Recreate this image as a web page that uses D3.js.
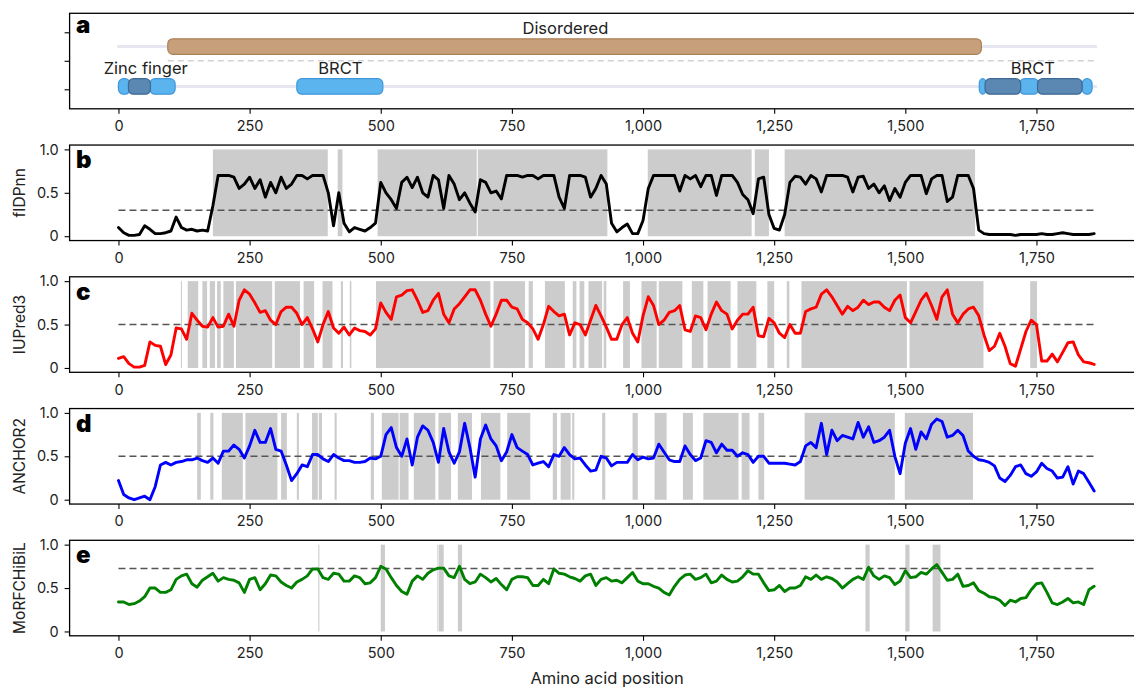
<!DOCTYPE html>
<html>
<head>
<meta charset="utf-8">
<script src="https://cdn.jsdelivr.net/npm/d3@7"></script>
<style>
  body { margin: 0; background: #fff; }
  text { font-family: Inter, 'Noto Sans', sans-serif; fill: #222; }
</style>
</head>
<body>
<script>
// Constants
var WIDTH = 1134;
var HEIGHT = 687;
var SEQ_LENGTH = 1863;
var STEP = 10; // one value read every 10 residues

// Scores, one every STEP residues (0, 10, ... 1860)
var fidpnn = [
  0.10, 0.04, 0.01, 0.01, 0.02, 0.12, 0.08, 0.03, 0.03, 0.04,
  0.06, 0.22, 0.10, 0.07, 0.08, 0.06, 0.07, 0.06, 0.35, 0.70,
  0.70, 0.70, 0.68, 0.55, 0.60, 0.68, 0.55, 0.65, 0.45, 0.62,
  0.50, 0.68, 0.55, 0.60, 0.70, 0.70, 0.66, 0.70, 0.70, 0.70,
  0.50, 0.12, 0.50, 0.15, 0.05, 0.10, 0.08, 0.06, 0.10, 0.15,
  0.62, 0.50, 0.42, 0.32, 0.62, 0.68, 0.56, 0.68, 0.50, 0.45,
  0.70, 0.65, 0.32, 0.70, 0.60, 0.42, 0.50, 0.38, 0.28, 0.65,
  0.62, 0.50, 0.52, 0.43, 0.70, 0.70, 0.70, 0.68, 0.70, 0.70,
  0.66, 0.70, 0.70, 0.70, 0.45, 0.32, 0.70, 0.70, 0.70, 0.68,
  0.45, 0.55, 0.70, 0.60, 0.15, 0.05, 0.10, 0.14, 0.03, 0.03,
  0.18, 0.55, 0.70, 0.70, 0.70, 0.70, 0.70, 0.52, 0.70, 0.66,
  0.70, 0.57, 0.70, 0.70, 0.47, 0.70, 0.70, 0.70, 0.62, 0.48,
  0.42, 0.26, 0.66, 0.68, 0.25, 0.09, 0.07, 0.25, 0.62, 0.69,
  0.68, 0.60, 0.70, 0.66, 0.51, 0.70, 0.70, 0.70, 0.70, 0.68,
  0.51, 0.68, 0.69, 0.55, 0.60, 0.50, 0.58, 0.41, 0.55, 0.45,
  0.62, 0.70, 0.70, 0.70, 0.49, 0.66, 0.70, 0.70, 0.40, 0.45,
  0.70, 0.70, 0.70, 0.55, 0.07, 0.03, 0.02, 0.02, 0.02, 0.02,
  0.02, 0.01, 0.02, 0.02, 0.02, 0.02, 0.03, 0.02, 0.02, 0.03,
  0.04, 0.03, 0.02, 0.02, 0.02, 0.02, 0.03
];

var iupred3 = [
  0.11, 0.13, 0.05, 0.01, 0.01, 0.03, 0.30, 0.26, 0.25, 0.04,
  0.15, 0.46, 0.45, 0.33, 0.63, 0.55, 0.48, 0.47, 0.58, 0.47,
  0.48, 0.62, 0.48, 0.78, 0.90, 0.85, 0.75, 0.64, 0.66, 0.55,
  0.50, 0.65, 0.70, 0.70, 0.63, 0.50, 0.58, 0.45, 0.30, 0.50,
  0.65, 0.46, 0.40, 0.47, 0.38, 0.46, 0.43, 0.42, 0.38, 0.45,
  0.75, 0.64, 0.56, 0.82, 0.84, 0.89, 0.90, 0.78, 0.64, 0.66,
  0.78, 0.86, 0.62, 0.52, 0.68, 0.74, 0.82, 0.90, 0.90, 0.78,
  0.62, 0.48, 0.62, 0.78, 0.78, 0.70, 0.68, 0.56, 0.52, 0.45,
  0.33, 0.50, 0.71, 0.65, 0.60, 0.62, 0.38, 0.52, 0.50, 0.38,
  0.55, 0.72, 0.60, 0.47, 0.33, 0.33, 0.50, 0.58, 0.40, 0.30,
  0.60, 0.82, 0.72, 0.50, 0.55, 0.64, 0.66, 0.72, 0.44, 0.42,
  0.60, 0.58, 0.44, 0.62, 0.76, 0.66, 0.62, 0.45, 0.55, 0.62,
  0.62, 0.70, 0.37, 0.36, 0.57, 0.52, 0.40, 0.35, 0.50, 0.40,
  0.40, 0.65, 0.68, 0.70, 0.85, 0.90, 0.82, 0.72, 0.62, 0.71,
  0.66, 0.70, 0.78, 0.73, 0.76, 0.76, 0.70, 0.66, 0.78, 0.84,
  0.58, 0.52, 0.65, 0.78, 0.86, 0.72, 0.56, 0.82, 0.90, 0.62,
  0.52, 0.62, 0.68, 0.70, 0.60, 0.38, 0.20, 0.25, 0.40, 0.25,
  0.05, 0.02, 0.22, 0.42, 0.55, 0.50, 0.08, 0.08, 0.16, 0.07,
  0.18, 0.29, 0.30, 0.15, 0.07, 0.06, 0.04
];

var anchor2 = [
  0.22, 0.06, 0.02, 0.00, 0.02, 0.04, 0.00, 0.15, 0.40, 0.43,
  0.40, 0.43, 0.44, 0.46, 0.46, 0.48, 0.45, 0.43, 0.48, 0.42,
  0.56, 0.56, 0.63, 0.58, 0.48, 0.62, 0.80, 0.66, 0.66, 0.82,
  0.58, 0.56, 0.40, 0.22, 0.30, 0.40, 0.38, 0.52, 0.52, 0.47,
  0.44, 0.52, 0.48, 0.45, 0.45, 0.43, 0.43, 0.44, 0.48, 0.47,
  0.50, 0.75, 0.83, 0.60, 0.50, 0.70, 0.40, 0.72, 0.85, 0.80,
  0.66, 0.43, 0.82, 0.55, 0.42, 0.55, 0.88, 0.60, 0.26, 0.70,
  0.86, 0.70, 0.62, 0.45, 0.55, 0.75, 0.60, 0.56, 0.52, 0.40,
  0.42, 0.44, 0.38, 0.52, 0.50, 0.60, 0.52, 0.47, 0.48, 0.40,
  0.33, 0.34, 0.50, 0.48, 0.39, 0.43, 0.43, 0.43, 0.52, 0.46,
  0.49, 0.47, 0.48, 0.64, 0.55, 0.46, 0.44, 0.44, 0.62, 0.52,
  0.45, 0.48, 0.68, 0.66, 0.54, 0.64, 0.57, 0.57, 0.50, 0.54,
  0.52, 0.43, 0.50, 0.50, 0.42, 0.42, 0.42, 0.42, 0.41, 0.40,
  0.44, 0.62, 0.66, 0.60, 0.88, 0.52, 0.80, 0.68, 0.74, 0.72,
  0.70, 0.89, 0.72, 0.84, 0.66, 0.68, 0.72, 0.80, 0.50, 0.30,
  0.65, 0.82, 0.58, 0.78, 0.70, 0.87, 0.93, 0.90, 0.72, 0.74,
  0.80, 0.74, 0.56, 0.50, 0.46, 0.45, 0.43, 0.39, 0.25, 0.21,
  0.28, 0.38, 0.40, 0.30, 0.27, 0.32, 0.42, 0.36, 0.33, 0.25,
  0.26, 0.38, 0.18, 0.33, 0.30, 0.20, 0.10
];

var morfchibil = [
  0.34, 0.34, 0.31, 0.32, 0.35, 0.40, 0.50, 0.50, 0.45, 0.45,
  0.48, 0.60, 0.64, 0.66, 0.55, 0.51, 0.59, 0.63, 0.67, 0.58,
  0.62, 0.60, 0.59, 0.56, 0.45, 0.60, 0.62, 0.48, 0.55, 0.65,
  0.64, 0.57, 0.53, 0.50, 0.57, 0.60, 0.64, 0.72, 0.72, 0.62,
  0.60, 0.67, 0.66, 0.58, 0.58, 0.64, 0.62, 0.55, 0.56, 0.62,
  0.75, 0.72, 0.62, 0.53, 0.46, 0.43, 0.58, 0.64, 0.60, 0.67,
  0.71, 0.73, 0.73, 0.64, 0.62, 0.75, 0.60, 0.55, 0.57, 0.66,
  0.62, 0.57, 0.61, 0.54, 0.48, 0.60, 0.63, 0.63, 0.62, 0.53,
  0.53, 0.60, 0.55, 0.72, 0.67, 0.66, 0.63, 0.61, 0.58, 0.64,
  0.66, 0.53, 0.60, 0.62, 0.58, 0.59, 0.56, 0.62, 0.68, 0.58,
  0.55, 0.55, 0.52, 0.50, 0.45, 0.42, 0.52, 0.60, 0.65, 0.66,
  0.60, 0.62, 0.66, 0.56, 0.58, 0.65, 0.60, 0.57, 0.58, 0.63,
  0.70, 0.66, 0.66, 0.56, 0.47, 0.48, 0.53, 0.46, 0.50, 0.50,
  0.53, 0.63, 0.60, 0.65, 0.60, 0.63, 0.61, 0.57, 0.50, 0.55,
  0.60, 0.63, 0.60, 0.74, 0.64, 0.60, 0.64, 0.62, 0.54, 0.58,
  0.70, 0.62, 0.63, 0.68, 0.66, 0.72, 0.77, 0.68, 0.59, 0.60,
  0.66, 0.52, 0.53, 0.56, 0.47, 0.44, 0.40, 0.39, 0.36, 0.30,
  0.36, 0.34, 0.38, 0.39, 0.48, 0.55, 0.56, 0.45, 0.33, 0.31,
  0.34, 0.38, 0.33, 0.34, 0.31, 0.48, 0.52
];

// Predicted regions (start, end residue), shaded grey
var fidpnnRegions = [[180, 399], [418, 427], [494, 683], [685, 932], [1009, 1207], [1213, 1240], [1270, 1633]];
var iupred3Regions = [[119, 121], [132, 152], [160, 169], [174, 184], [188, 195], [200, 220], [224, 293],
  [298, 346], [353, 373], [389, 408], [424, 428], [441, 444], [491, 709], [715, 775], [782, 790],
  [813, 851], [866, 873], [879, 888], [896, 922], [925, 930], [962, 975], [997, 1026], [1030, 1075],
  [1093, 1115], [1123, 1167], [1180, 1216], [1237, 1250], [1274, 1279], [1302, 1503], [1508, 1649],
  [1738, 1751]];
var anchor2Regions = [[150, 157], [175, 181], [197, 237], [242, 303], [310, 321], [340, 344], [369, 380],
  [382, 388], [412, 416], [481, 487], [502, 534], [536, 553], [563, 604], [610, 634], [647, 674],
  [691, 728], [741, 785], [828, 836], [843, 862], [865, 869], [922, 928], [980, 990], [1022, 1045],
  [1076, 1095], [1115, 1182], [1188, 1203], [1220, 1231], [1308, 1480], [1499, 1629]];
var morfchibilRegions = [[381, 383], [500, 508], [608, 610], [611, 620], [647, 655], [1424, 1432],
  [1500, 1508], [1552, 1567]];

var thresholds = [0.3, 0.5, 0.5, 0.725];
var trackNames = ['fIDPnn', 'IUPred3', 'ANCHOR2', 'MoRFCHiBiL'];
var lineColors = ['#000000', '#ff0000', '#0000ff', '#008000'];
var panelLetters = ['a', 'b', 'c', 'd', 'e'];

// Domain map (panel a)
var disorderedRegion = [94, 1645];
var domainLight = [[0, 22], [60, 108], [340, 504], [1641, 1654], [1718, 1754], [1837, 1856]];
var domainDark = [[19, 61], [1652, 1720], [1752, 1837]];
var domainLabels = [['Disordered', 852, 'top'], ['Zinc finger', 52, 'bottom'], ['BRCT', 423, 'bottom'], ['BRCT', 1743, 'bottom']];

var xTicks = [0, 250, 500, 750, 1000, 1250, 1500, 1750];
var yTicks = [0, 0.5, 1];

// Layout
var LEFT = 69.6;
var RIGHT = 1144.6; // frame runs past the picture edge
var PANEL_TOP = 13.3;
var PANEL_STEP = 131.75;
var PANEL_H = 95.5;

var x = d3.scaleLinear()
  .domain([-0.05 * SEQ_LENGTH, 1.05 * SEQ_LENGTH])
  .range([LEFT, RIGHT]);

var svg = d3.select('body').append('svg')
  .attr('width', WIDTH)
  .attr('height', HEIGHT);

function drawFrame(g, top) {
  g.append('rect')
    .attr('x', LEFT)
    .attr('y', top)
    .attr('width', RIGHT - LEFT)
    .attr('height', PANEL_H)
    .attr('fill', 'none')
    .attr('stroke', '#000')
    .attr('stroke-width', 1.3);
}

function drawXAxis(g, top) {
  var ax = g.append('g')
    .attr('transform', 'translate(0,' + (top + PANEL_H) + ')')
    .call(d3.axisBottom(x).tickValues(xTicks).tickFormat(d3.format(',')).tickSize(5).tickPadding(7));
  ax.select('.domain').remove();
  ax.selectAll('line').attr('stroke', '#000').attr('stroke-width', 1.1);
  ax.selectAll('text').attr('font-size', 14.5).attr('fill', '#222').style('font-family', "Inter, 'Noto Sans', sans-serif");
}

function drawLetter(g, top, letter, dy) {
  g.append('text')
    .attr('x', 76)
    .attr('y', top + dy)
    .attr('font-size', 24)
    .attr('font-weight', 900)
    .style('fill', '#000')
    .text(letter);
}

// Panel a: domain map
var gA = svg.append('g');
var topA = PANEL_TOP;
var yA = d3.scaleLinear().domain([0, 2]).range([89.3, 32.3]);
var rowY = { top: yA(1.5), bottom: yA(0.1) };
var PILL_H = 15.5;

drawFrame(gA, topA);

[rowY.top, rowY.bottom].forEach(function (ry) {
  gA.append('line')
    .attr('x1', x(0)).attr('x2', x(SEQ_LENGTH))
    .attr('y1', ry).attr('y2', ry)
    .attr('stroke', '#e6e6f0')
    .attr('stroke-width', 3)
    .attr('stroke-linecap', 'round');
});

gA.append('line')
  .attr('x1', x(disorderedRegion[0])).attr('x2', x(SEQ_LENGTH))
  .attr('y1', yA(1)).attr('y2', yA(1))
  .attr('stroke', '#d2d2d2')
  .attr('stroke-width', 1.5)
  .attr('stroke-dasharray', '6,4');

gA.append('rect')
  .attr('x', x(disorderedRegion[0]))
  .attr('y', rowY.top - PILL_H / 2)
  .attr('width', x(disorderedRegion[1]) - x(disorderedRegion[0]))
  .attr('height', PILL_H)
  .attr('rx', 5)
  .attr('fill', '#c89f7b')
  .attr('stroke', '#ad8157')
  .attr('stroke-width', 1.2);

gA.selectAll('rect.light').data(domainLight).enter().append('rect')
  .attr('class', 'light')
  .attr('x', function (d) { return x(d[0]); })
  .attr('y', rowY.bottom - PILL_H / 2)
  .attr('width', function (d) { return x(d[1]) - x(d[0]); })
  .attr('height', PILL_H)
  .attr('rx', 5)
  .attr('fill', '#5cb4ee')
  .attr('stroke', '#3f97da')
  .attr('stroke-width', 1.2);

gA.selectAll('rect.dark').data(domainDark).enter().append('rect')
  .attr('class', 'dark')
  .attr('x', function (d) { return x(d[0]); })
  .attr('y', rowY.bottom - PILL_H / 2)
  .attr('width', function (d) { return x(d[1]) - x(d[0]); })
  .attr('height', PILL_H)
  .attr('rx', 5)
  .attr('fill', '#5b87b3')
  .attr('stroke', '#3d6995')
  .attr('stroke-width', 1.2);

gA.selectAll('text.dom').data(domainLabels).enter().append('text')
  .attr('class', 'dom')
  .attr('x', function (d) { return x(d[1]); })
  .attr('y', function (d) { return (d[2] === 'top' ? rowY.top : rowY.bottom) - 12.5; })
  .attr('text-anchor', 'middle')
  .attr('font-size', 16.5)
  .text(function (d) { return d[0]; });

var axA = gA.append('g')
  .attr('transform', 'translate(' + LEFT + ',0)')
  .call(d3.axisLeft(yA).tickValues([0, 1, 2]).tickFormat('').tickSize(5));
axA.select('.domain').remove();
axA.selectAll('line').attr('stroke', '#000').attr('stroke-width', 1.1);

drawXAxis(gA, topA);
drawLetter(gA, topA, panelLetters[0], 19.5);

// Panels b-e: score tracks
var scores = [fidpnn, iupred3, anchor2, morfchibil];
var regions = [fidpnnRegions, iupred3Regions, anchor2Regions, morfchibilRegions];

scores.forEach(function (values, k) {
  var top = PANEL_TOP + PANEL_STEP * (k + 1);
  var g = svg.append('g');
  var y = d3.scaleLinear().domain([-0.05, 1.05]).range([top + PANEL_H, top]);

  g.selectAll('rect.region').data(regions[k]).enter().append('rect')
    .attr('class', 'region')
    .attr('x', function (d) { return x(d[0]); })
    .attr('y', y(1))
    .attr('width', function (d) { return Math.max(1, x(d[1]) - x(d[0])); })
    .attr('height', y(0) - y(1))
    .attr('fill', '#cccccc');

  g.append('line')
    .attr('x1', x(0)).attr('x2', x(SEQ_LENGTH))
    .attr('y1', y(thresholds[k])).attr('y2', y(thresholds[k]))
    .attr('stroke', '#555')
    .attr('stroke-width', 1.5)
    .attr('stroke-dasharray', '7,4');

  var line = d3.line()
    .x(function (d, i) { return x(i * STEP); })
    .y(function (d) { return y(d); });

  g.append('path')
    .attr('d', line(values))
    .attr('fill', 'none')
    .attr('stroke', lineColors[k])
    .attr('stroke-width', 2.9)
    .attr('stroke-linejoin', 'round')
    .attr('stroke-linecap', 'round');

  drawFrame(g, top);

  var ay = g.append('g')
    .attr('transform', 'translate(' + LEFT + ',0)')
    .call(d3.axisLeft(y).tickValues(yTicks)
      .tickFormat(function (d) { return d === 0 ? '0' : d3.format('.1f')(d); })
      .tickSize(5).tickPadding(6));
  ay.select('.domain').remove();
  ay.selectAll('line').attr('stroke', '#000').attr('stroke-width', 1.1);
  ay.selectAll('text').attr('font-size', 14.5).attr('fill', '#222').style('font-family', "Inter, 'Noto Sans', sans-serif");

  g.append('text')
    .attr('transform', 'translate(25,' + (top + PANEL_H / 2) + ') rotate(-90)')
    .attr('text-anchor', 'middle')
    .attr('font-size', 15.5)
    .text(trackNames[k]);

  drawXAxis(g, top);
  drawLetter(g, top, panelLetters[k + 1], 23);
});

svg.append('text')
  .attr('x', (LEFT + RIGHT) / 2)
  .attr('y', 684)
  .attr('text-anchor', 'middle')
  .attr('font-size', 16.5)
  .text('Amino acid position');
</script>
</body>
</html>
